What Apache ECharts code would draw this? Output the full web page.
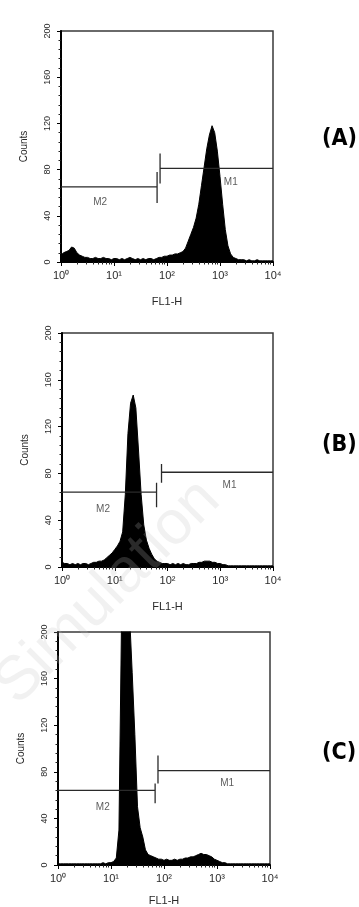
<!DOCTYPE html>
<html lang="en">
<head>
    <meta charset="UTF-8">
    <title>FL1-H histograms</title>
    <style>
        html, body { margin: 0; padding: 0; background: #fff; }
    </style>
</head>
<body>
<div id="main" style="width:359px;height:907px;"></div>
<script src="https://cdn.jsdelivr.net/npm/echarts@6/dist/echarts.min.js"></script>
<script>
    // bin positions, in decades of FL1-H (10^0 .. 10^4)
    var logBins = [0, 0.05, 0.1, 0.15, 0.2, 0.25, 0.3, 0.35, 0.4, 0.45,
        0.5, 0.55, 0.6, 0.65, 0.7, 0.75, 0.8, 0.85, 0.9, 0.95,
        1, 1.05, 1.1, 1.15, 1.2, 1.25, 1.3, 1.35, 1.4, 1.45,
        1.5, 1.55, 1.6, 1.65, 1.7, 1.75, 1.8, 1.85, 1.9, 1.95,
        2, 2.05, 2.1, 2.15, 2.2, 2.25, 2.3, 2.35, 2.4, 2.45,
        2.5, 2.55, 2.6, 2.65, 2.7, 2.75, 2.8, 2.85, 2.9, 2.95,
        3, 3.05, 3.1, 3.15, 3.2, 3.25, 3.3, 3.35, 3.4, 3.45,
        3.5, 3.55, 3.6, 3.65, 3.7, 3.75, 3.8, 3.85, 3.9, 3.95, 4];

    var countsA = [6, 8, 9, 10, 13, 12, 8, 6, 5, 4,
        4, 3, 3, 4, 3, 3, 4, 3, 3, 2,
        3, 3, 2, 3, 2, 3, 4, 3, 2, 3,
        2, 3, 2, 3, 3, 2, 3, 4, 4, 5,
        5, 6, 6, 7, 7, 8, 9, 12, 18, 24,
        30, 38, 50, 66, 82, 98, 110, 118, 112, 96,
        74, 50, 28, 14, 7, 4, 3, 2, 2, 2,
        1, 2, 1, 1, 2, 1, 1, 1, 1, 1, 1];

    var countsB = [4, 3, 3, 2, 3, 2, 3, 2, 3, 3,
        2, 3, 4, 4, 5, 5, 6, 8, 10, 12,
        15, 18, 22, 30, 62, 114, 140, 147, 136, 100,
        62, 36, 23, 16, 11, 7, 5, 4, 3, 3,
        3, 2, 3, 2, 3, 2, 3, 2, 2, 3,
        3, 3, 4, 4, 5, 5, 5, 4, 4, 3,
        3, 2, 2, 1, 1, 1, 1, 1, 1, 1,
        1, 1, 1, 1, 1, 1, 1, 1, 1, 1, 1];

    var countsC = [1, 1, 1, 1, 1, 1, 1, 1, 1, 1,
        1, 1, 1, 1, 1, 1, 1, 2, 1, 2,
        2, 3, 6, 30, 215, 230, 226, 215, 165, 112,
        50, 32, 24, 13, 9, 8, 7, 6, 5, 5,
        4, 5, 4, 4, 5, 4, 5, 5, 6, 6,
        7, 7, 8, 9, 10, 9, 9, 8, 7, 5,
        4, 3, 2, 2, 1, 1, 1, 1, 1, 1,
        1, 1, 1, 1, 1, 1, 1, 1, 1, 1, 1];

    // marker gates per panel: [A, B, C]
    var m2Level = [65, 64, 64];
    var m2End = [65, 62, 68];
    var m2Tick = [[51, 78], [51, 72], [53, 70]];
    var m1Level = [81, 81, 81];
    var m1Start = [74, 77, 77];
    var m1Tick = [[68, 94], [72, 88], [70, 94]];
    var m2LabelPos = [[5.5, 52], [6, 49], [7, 50]];
    var m1LabelPos = [[1600, 69], [1500, 70], [1550, 70]];

    var yTicks = [0, 40, 80, 120, 160, 200];
    var panelNames = ['(A)', '(B)', '(C)'];

    var myChart = echarts.init(document.getElementById('main'));

    var grids = [
        {left: 61, top: 31, width: 212, height: 231},
        {left: 62, top: 333, width: 211, height: 234},
        {left: 58, top: 632, width: 212, height: 233}
    ];
    var sup = ['\u2070', '\u00b9', '\u00b2', '\u00b3', '\u2074'];
    var txt = '#2a2a2a';
    var font = 'Liberation Sans';
    var tagFont = 'DejaVu Sans Condensed';

    var xAxes = [], yAxes = [], series = [];
    [countsA, countsB, countsC].forEach(function (counts, i) {
        grids[i].show = true;
        grids[i].borderColor = '#3a3a3a';
        grids[i].borderWidth = 1.5;
        grids[i].backgroundColor = 'transparent';

        xAxes.push({
            type: 'log',
            logBase: 10,
            min: 1,
            max: 10000,
            gridIndex: i,
            name: 'FL1-H',
            nameLocation: 'middle',
            nameGap: i === 2 ? 30 : 34,
            nameTextStyle: {color: txt, fontSize: 11, fontFamily: font},
            axisLine: {show: true, lineStyle: {color: '#000', width: 2}},
            axisTick: {show: true, length: 4, lineStyle: {color: '#000', width: 1}},
            minorTick: {show: true, splitNumber: 9, length: 2.5, lineStyle: {color: '#222', width: 1}},
            splitLine: {show: false},
            axisLabel: {
                color: txt,
                fontSize: 11,
                fontFamily: font,
                margin: 8,
                formatter: function (v) {
                    return '10' + sup[Math.round(Math.log10(v))];
                }
            }
        });

        yAxes.push({
            type: 'value',
            min: 0,
            max: 200,
            interval: 40,
            gridIndex: i,
            name: 'Counts',
            nameLocation: 'middle',
            nameRotate: 90,
            nameGap: 32,
            nameTextStyle: {color: txt, fontSize: 10, fontFamily: font},
            axisLine: {show: true, lineStyle: {color: '#000', width: 2}},
            axisTick: {show: true, length: 4, lineStyle: {color: '#000', width: 1}},
            minorTick: {show: true, splitNumber: 5, length: 2.5, lineStyle: {color: '#222', width: 1}},
            splitLine: {show: false},
            axisLabel: {
                color: txt,
                fontSize: 9,
                fontFamily: font,
                rotate: 90,
                margin: 9,
                customValues: yTicks
            }
        });

        var hist = logBins.map(function (b, k) {
            return [Math.pow(10, b), counts[k]];
        });

        series.push({
            type: 'line',
            xAxisIndex: i,
            yAxisIndex: i,
            data: hist,
            symbol: 'none',
            clip: true,
            lineStyle: {color: '#000', width: 1},
            areaStyle: {color: '#000', opacity: 1},
            z: 2
        });

        // M2 gate with its end bar
        series.push({
            type: 'line',
            xAxisIndex: i,
            yAxisIndex: i,
            data: [[1, m2Level[i]], [m2End[i], m2Level[i]], [m2End[i], m2Tick[i][0]], [m2End[i], m2Tick[i][1]]],
            symbol: 'none',
            lineStyle: {color: '#2a2a2a', width: 1.3},
            z: 3
        });
        // M1 gate with its start bar
        series.push({
            type: 'line',
            xAxisIndex: i,
            yAxisIndex: i,
            data: [[m1Start[i], m1Tick[i][0]], [m1Start[i], m1Tick[i][1]], [m1Start[i], m1Level[i]], [10000, m1Level[i]]],
            symbol: 'none',
            lineStyle: {color: '#2a2a2a', width: 1.3},
            z: 3
        });
        // gate names
        series.push({
            type: 'scatter',
            xAxisIndex: i,
            yAxisIndex: i,
            symbolSize: 0,
            silent: true,
            data: [
                {value: m2LabelPos[i], name: 'M2'},
                {value: m1LabelPos[i], name: 'M1'}
            ],
            label: {
                show: true,
                position: 'inside',
                formatter: '{b}',
                color: '#333',
                fontSize: 10,
                fontFamily: font
            },
            z: 4
        });
    });

    var option = {
        backgroundColor: '#fff',
        animation: false,
        grid: grids,
        xAxis: xAxes,
        yAxis: yAxes,
        series: series,
        graphic: [
            {
                type: 'text', left: 322, top: 128,
                style: {text: panelNames[0], fontSize: 23, fontWeight: 'bold', fontFamily: tagFont, fill: '#000'}
            },
            {
                type: 'text', left: 322, top: 434,
                style: {text: panelNames[1], fontSize: 23, fontWeight: 'bold', fontFamily: tagFont, fill: '#000'}
            },
            {
                type: 'text', left: 322, top: 742,
                style: {text: panelNames[2], fontSize: 23, fontWeight: 'bold', fontFamily: tagFont, fill: '#000'}
            },
            {
                // faint watermark
                type: 'text', x: 210, y: 490, rotation: Math.PI / 4, z: 100, silent: true,
                style: {text: 'Simulation', fontSize: 62, fontFamily: font, fill: 'rgba(190,190,190,0.22)', align: 'right', verticalAlign: 'middle'}
            }
        ]
    };
    myChart.setOption(option);
</script>
</body>
</html>
